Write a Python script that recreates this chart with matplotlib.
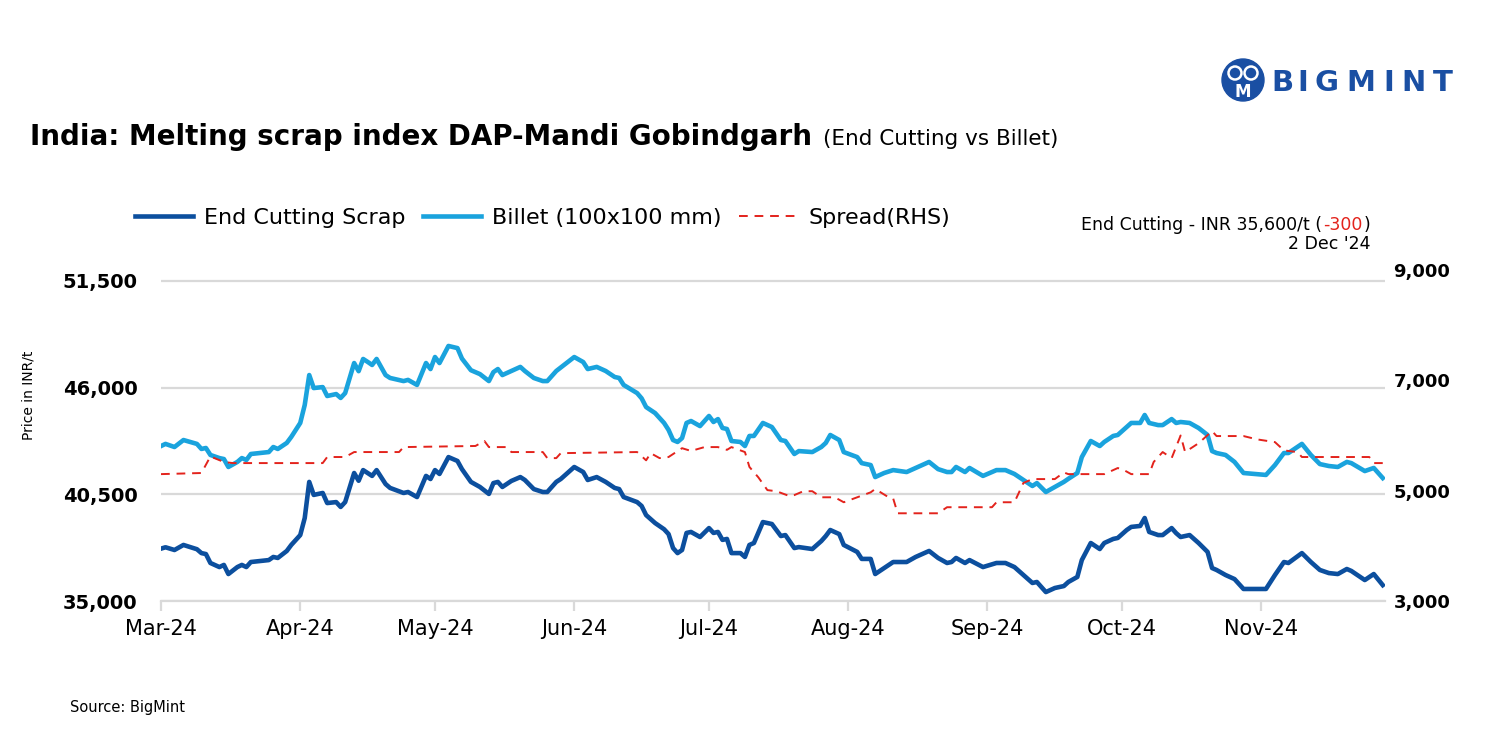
import matplotlib

matplotlib.use("Agg")
import matplotlib.dates as mdates  # noqa: E402
import matplotlib.pyplot as plt  # noqa: E402
import pandas as pd  # noqa: E402
from matplotlib.lines import Line2D  # noqa: E402
from matplotlib.patches import Circle  # noqa: E402
from matplotlib.ticker import FuncFormatter  # noqa: E402

# 価格データ (INR/t) は図から読み取った概算値
main_dates = [
    "2024-03-01", "2024-03-02", "2024-03-04", "2024-03-06", "2024-03-09", "2024-03-10",
    "2024-03-11", "2024-03-12", "2024-03-14", "2024-03-15", "2024-03-16", "2024-03-18",
    "2024-03-19", "2024-03-20", "2024-03-21", "2024-03-25", "2024-03-26", "2024-03-27",
    "2024-03-29", "2024-03-30", "2024-04-01", "2024-04-02", "2024-04-03", "2024-04-04",
    "2024-04-06", "2024-04-07", "2024-04-09", "2024-04-10", "2024-04-11", "2024-04-13",
    "2024-04-14", "2024-04-15", "2024-04-16", "2024-04-17", "2024-04-18", "2024-04-20",
    "2024-04-21", "2024-04-24", "2024-04-25", "2024-04-27", "2024-04-29", "2024-04-30",
    "2024-05-01", "2024-05-02", "2024-05-04", "2024-05-06", "2024-05-07", "2024-05-09",
    "2024-05-11", "2024-05-13", "2024-05-14", "2024-05-15", "2024-05-16", "2024-05-18",
    "2024-05-20", "2024-05-21", "2024-05-23", "2024-05-25", "2024-05-26", "2024-05-28",
    "2024-05-29", "2024-06-01", "2024-06-03", "2024-06-04", "2024-06-06", "2024-06-08",
    "2024-06-10", "2024-06-11", "2024-06-12", "2024-06-15", "2024-06-16", "2024-06-17",
    "2024-06-19", "2024-06-21", "2024-06-22", "2024-06-23", "2024-06-24", "2024-06-25",
    "2024-06-26", "2024-06-27", "2024-06-29", "2024-07-01", "2024-07-02", "2024-07-03",
    "2024-07-04", "2024-07-05", "2024-07-06", "2024-07-08", "2024-07-09", "2024-07-10",
    "2024-07-11", "2024-07-13", "2024-07-15", "2024-07-17", "2024-07-18", "2024-07-20",
    "2024-07-21", "2024-07-24", "2024-07-26", "2024-07-27", "2024-07-28", "2024-07-30",
    "2024-07-31", "2024-08-03", "2024-08-04", "2024-08-06", "2024-08-07", "2024-08-09",
    "2024-08-11", "2024-08-14", "2024-08-16", "2024-08-19", "2024-08-21", "2024-08-23",
    "2024-08-24", "2024-08-25", "2024-08-27", "2024-08-28", "2024-08-31", "2024-09-03",
    "2024-09-05", "2024-09-07", "2024-09-09", "2024-09-11", "2024-09-12", "2024-09-14",
    "2024-09-16", "2024-09-18", "2024-09-19", "2024-09-21", "2024-09-22", "2024-09-24",
    "2024-09-26", "2024-09-27", "2024-09-29", "2024-09-30", "2024-10-02", "2024-10-03",
    "2024-10-05", "2024-10-06", "2024-10-07", "2024-10-09", "2024-10-10", "2024-10-12",
    "2024-10-13", "2024-10-14", "2024-10-16", "2024-10-18", "2024-10-20", "2024-10-21",
    "2024-10-22", "2024-10-24", "2024-10-26", "2024-10-28", "2024-11-02", "2024-11-04",
    "2024-11-06", "2024-11-07", "2024-11-10", "2024-11-12", "2024-11-14", "2024-11-16",
    "2024-11-18", "2024-11-20", "2024-11-21", "2024-11-24", "2024-11-26", "2024-11-28",
]

end_cutting = [
    37700, 37770, 37630, 37890, 37670, 37470, 37420, 36960, 36750, 36860, 36390, 36750,
    36860, 36750, 37010, 37110, 37270, 37220, 37580, 37890, 38400, 39280, 41140, 40470,
    40570, 40050, 40100, 39850, 40100, 41600, 41200, 41750, 41600, 41450, 41750, 41030,
    40830, 40570, 40620, 40360, 41450, 41290, 41750, 41550, 42420, 42220, 41800, 41140,
    40880, 40520, 41080, 41140, 40880, 41190, 41390, 41240, 40770, 40620, 40620, 41140,
    41290, 41910, 41650, 41240, 41390, 41140, 40830, 40770, 40360, 40100, 39900, 39430,
    39020, 38700, 38450, 37730, 37470, 37630, 38510, 38560, 38300, 38760, 38510, 38560,
    38150, 38200, 37470, 37470, 37270, 37890, 37990, 39070, 38970, 38350, 38400, 37730,
    37780, 37680, 38090, 38350, 38660, 38450, 37890, 37530, 37170, 37170, 36390, 36700,
    37010, 37010, 37270, 37580, 37220, 36960, 37010, 37220, 36960, 37110, 36750, 36960,
    36960, 36750, 36340, 35930, 35980, 35460, 35670, 35770, 35980, 36240, 37110, 37990,
    37680, 37990, 38200, 38250, 38660, 38820, 38870, 39280, 38560, 38400, 38400, 38760,
    38500, 38300, 38400, 37990, 37530, 36700, 36600, 36340, 36130, 35620, 35620, 36340,
    37010, 36960, 37470, 37010, 36600, 36440, 36390, 36650, 36550, 36080, 36390, 35820,
]

billet = [
    42990, 43100, 42940, 43300, 43100, 42840, 42890, 42530, 42370, 42320, 41910, 42170,
    42370, 42270, 42580, 42680, 42940, 42840, 43150, 43460, 44180, 45110, 46650, 45980,
    46030, 45570, 45670, 45470, 45720, 47270, 46850, 47480, 47330, 47170, 47480, 46650,
    46500, 46340, 46400, 46140, 47270, 46960, 47580, 47270, 48150, 48040, 47500, 46900,
    46700, 46340, 46800, 46960, 46650, 46860, 47070, 46860, 46500, 46340, 46340, 46860,
    47040, 47580, 47320, 46960, 47070, 46860, 46550, 46500, 46140, 45720, 45450, 45000,
    44690, 44180, 43820, 43300, 43200, 43400, 44180, 44280, 44020, 44540, 44230, 44380,
    43920, 43870, 43250, 43200, 42990, 43510, 43510, 44180, 43970, 43300, 43250, 42580,
    42730, 42680, 42940, 43150, 43560, 43300, 42680, 42420, 42110, 42010, 41390, 41600,
    41750, 41650, 41860, 42170, 41800, 41650, 41650, 41910, 41650, 41860, 41450, 41750,
    41750, 41550, 41240, 40930, 41080, 40620, 40880, 41140, 41300, 41600, 42420, 43250,
    42990, 43200, 43510, 43560, 43970, 44180, 44180, 44590, 44180, 44070, 44070, 44380,
    44180, 44230, 44180, 43920, 43560, 42730, 42630, 42530, 42170, 41600, 41500, 42010,
    42630, 42630, 43100, 42530, 42060, 41960, 41910, 42170, 42110, 41700, 41860, 41340,
]

# スプレッド (右軸)
spread_dates = [
    "2024-03-01", "2024-03-10", "2024-03-12", "2024-03-15", "2024-03-17", "2024-04-06",
    "2024-04-07", "2024-04-11", "2024-04-13", "2024-04-23", "2024-04-24", "2024-05-10",
    "2024-05-12", "2024-05-13", "2024-05-17", "2024-05-18", "2024-05-25", "2024-05-26",
    "2024-05-28", "2024-05-29", "2024-06-15", "2024-06-17", "2024-06-18", "2024-06-20",
    "2024-06-22", "2024-06-25", "2024-06-27", "2024-06-30", "2024-07-03", "2024-07-05",
    "2024-07-06", "2024-07-09", "2024-07-10", "2024-07-12", "2024-07-14", "2024-07-16",
    "2024-07-19", "2024-07-20", "2024-07-22", "2024-07-24", "2024-07-26", "2024-07-29",
    "2024-07-31", "2024-08-03", "2024-08-06", "2024-08-07", "2024-08-10", "2024-08-11",
    "2024-08-12", "2024-08-21", "2024-08-23", "2024-09-02", "2024-09-03", "2024-09-07",
    "2024-09-09", "2024-09-11", "2024-09-16", "2024-09-18", "2024-09-19", "2024-09-27",
    "2024-09-30", "2024-10-01", "2024-10-03", "2024-10-07", "2024-10-08", "2024-10-10",
    "2024-10-12", "2024-10-14", "2024-10-15", "2024-10-18", "2024-10-21", "2024-10-22",
    "2024-10-28", "2024-10-31", "2024-11-04", "2024-11-06", "2024-11-09", "2024-11-10",
    "2024-11-25", "2024-11-26", "2024-11-28",
]

spread = [
    5300, 5320, 5620, 5520, 5500, 5500, 5610, 5610, 5700, 5700, 5790, 5810,
    5900, 5790, 5790, 5700, 5700, 5590, 5590, 5680, 5700, 5550, 5680, 5590,
    5610, 5770, 5720, 5790, 5790, 5740, 5790, 5700, 5430, 5240, 5010, 4990,
    4900, 4920, 4990, 4990, 4880, 4880, 4790, 4880, 4970, 5030, 4880, 4860,
    4590, 4590, 4700, 4700, 4790, 4790, 5140, 5210, 5210, 5330, 5300, 5300,
    5410, 5390, 5300, 5300, 5520, 5700, 5590, 6000, 5700, 5860, 6080, 5990,
    5990, 5930, 5880, 5730, 5700, 5610, 5610, 5500, 5500,
]

month_ticks = ["2024-03-01", "2024-04-01", "2024-05-01", "2024-06-01", "2024-07-01",
               "2024-08-01", "2024-09-01", "2024-10-01", "2024-11-01"]
left_ticks = [35000, 40500, 46000, 51500]
right_ticks = [3000, 5000, 7000, 9000]

DARK_BLUE = "#0c4f9e"
LIGHT_BLUE = "#1aa3dd"
RED = "#e3231c"
GRID = "#d9d9d9"
LOGO_BLUE = "#1a4fa3"

W, H = 1501, 750
fig = plt.figure(figsize=(W / 100, H / 100), dpi=100)
fig.patch.set_facecolor("white")

# プロット領域 (ピクセル座標から算出)
ax = fig.add_axes([161 / W, 1 - 601 / H, 1224 / W, 331 / H])
ax2 = ax.twinx()

d_main = pd.to_datetime(main_dates)
d_spread = pd.to_datetime(spread_dates)

ax.plot(d_main, end_cutting, color=DARK_BLUE, lw=3.3, solid_joinstyle="round", zorder=3)
ax.plot(d_main, billet, color=LIGHT_BLUE, lw=3.3, solid_joinstyle="round", zorder=3)
ax2.plot(d_spread, spread, color=RED, lw=1.4, linestyle=(0, (4.5, 3.5)), zorder=2)

ax.set_xlim(pd.Timestamp("2024-03-01"), pd.Timestamp("2024-11-28 12:00"))
ax.set_ylim(35000, 52067)
ax2.set_ylim(3000, 9000)

ax.set_yticks(left_ticks)
ax.yaxis.set_major_formatter(FuncFormatter(lambda v, _: f"{v:,.0f}"))
ax2.set_yticks(right_ticks)
ax2.yaxis.set_major_formatter(FuncFormatter(lambda v, _: f"{v:,.0f}"))

ax.set_xticks(pd.to_datetime(month_ticks))
ax.xaxis.set_major_formatter(mdates.DateFormatter("%b-%y"))

ax.grid(axis="y", color=GRID, lw=1.6)
ax.set_axisbelow(True)
for a in (ax, ax2):
    for side in ("top", "left", "right", "bottom"):
        a.spines[side].set_visible(False)
ax.spines["bottom"].set_visible(True)
ax.spines["bottom"].set_color(GRID)
ax.spines["bottom"].set_linewidth(1.6)

ax.tick_params(axis="y", length=0, pad=17, labelsize=14)
ax2.tick_params(axis="y", length=0, pad=6, labelsize=13)
ax.tick_params(axis="x", length=7, width=1.6, color=GRID, pad=6, labelsize=15)
for lab in ax.get_yticklabels() + ax2.get_yticklabels():
    lab.set_fontweight("bold")

ax.set_ylabel("Price in INR/t", fontsize=10, labelpad=0)
ax.yaxis.set_label_coords(-126 / 1224, 0.62)

# タイトル
fig.text(30 / W, 1 - 145 / H, "India: Melting scrap index DAP-Mandi Gobindgarh",
         fontsize=20, fontweight="bold", va="baseline", ha="left")
fig.text(823 / W, 1 - 145 / H, "(End Cutting vs Billet)", fontsize=15.5,
         va="baseline", ha="left")

# 凡例
handles = [
    Line2D([], [], color=DARK_BLUE, lw=3.3),
    Line2D([], [], color=LIGHT_BLUE, lw=3.3),
    Line2D([], [], color=RED, lw=1.4, linestyle=(0, (4.5, 3.5))),
]
labels = ["End Cutting Scrap", "Billet (100x100 mm)", "Spread(RHS)"]
fig.legend(handles, labels, loc="center left", bbox_to_anchor=(135 / W, 1 - 218 / H),
           ncol=3, frameon=False, fontsize=16, handlelength=2.6, handletextpad=0.5,
           columnspacing=0.8, borderpad=0, borderaxespad=0)

# 最新値の注記 (-300 は赤字)
renderer = fig.canvas.get_renderer()
x_right = 1370 / W
y1 = 1 - 230 / H
t3 = fig.text(x_right, y1, ")", fontsize=12.5, ha="right", va="baseline")
w3 = t3.get_window_extent(renderer).width
t2 = fig.text(x_right - (w3 + 1) / W, y1, "-300", color=RED, fontsize=12.5,
              ha="right", va="baseline")
w2 = t2.get_window_extent(renderer).width
fig.text(x_right - (w3 + w2 + 2) / W, y1, "End Cutting - INR 35,600/t (", fontsize=12.5,
         ha="right", va="baseline")
fig.text(x_right, 1 - 249 / H, "2 Dec '24", fontsize=12.5, ha="right", va="baseline")

fig.text(70 / W, 1 - 712 / H, "Source: BigMint", fontsize=10.5, ha="left", va="baseline")

# ロゴ
logo_ax = fig.add_axes([0, 0, 1, 1], facecolor="none")
logo_ax.set_xlim(0, W)
logo_ax.set_ylim(H, 0)
logo_ax.axis("off")
logo_ax.add_patch(Circle((1243, 80), 21, color=LOGO_BLUE))
logo_ax.add_patch(Circle((1235, 73), 6.5, facecolor=LOGO_BLUE, edgecolor="white", lw=1.8))
logo_ax.add_patch(Circle((1251, 73), 6.5, facecolor=LOGO_BLUE, edgecolor="white", lw=1.8))
logo_ax.text(1243, 92, "M", color="white", fontsize=12, fontweight="bold",
             ha="center", va="center")
for ch, cx in zip("BIGMINT", [1282, 1303, 1326, 1361, 1389, 1413, 1443]):
    logo_ax.text(cx, 83, ch, color=LOGO_BLUE, fontsize=21, fontweight="bold",
                 ha="center", va="center")

fig.savefig("out.png", dpi=100)
